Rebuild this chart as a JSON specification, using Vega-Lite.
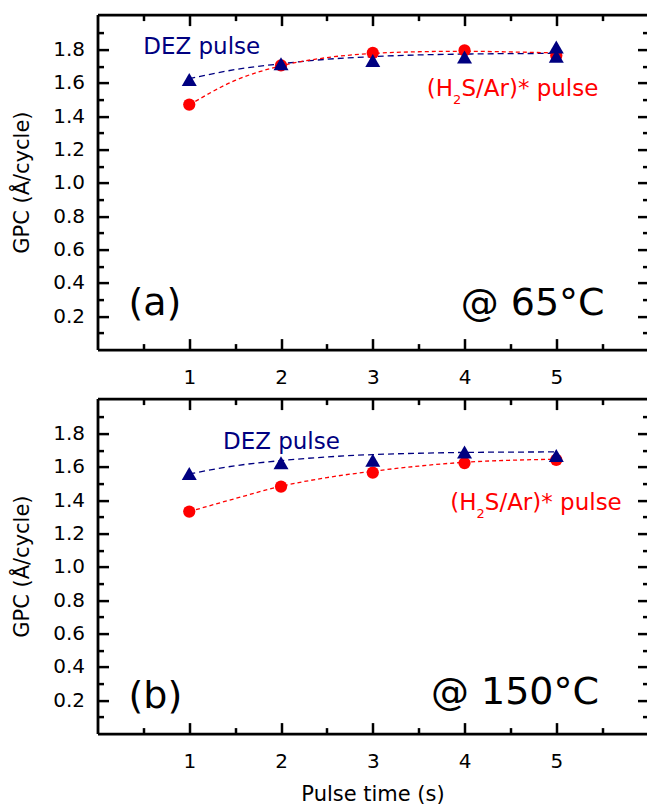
{
  "$schema": "https://vega.github.io/schema/vega-lite/v6.json",
  "padding": {"left": 11.5, "top": 12.6, "right": 0, "bottom": 0},
  "bounds": "flush",
  "spacing": 49,
  "config": {
    "view": {"stroke": null, "fill": null},
    "style": {"cell": {"stroke": "transparent", "strokeWidth": 0}},
    "font": "DejaVu Sans",
    "axis": {
      "grid": false,
      "tickColor": "#000000",
      "domainColor": "#000000",
      "labelColor": "#000000",
      "titleColor": "#000000",
      "tickWidth": 2.5,
      "domainWidth": 2.8,
      "labelFont": "DejaVu Sans",
      "labelFontSize": 20,
      "titleFont": "DejaVu Sans",
      "titleFontSize": 21,
      "titleFontWeight": "normal",
      "labelOverlap": false,
      "labelFlush": false,
      "minExtent": 0
    }
  },
  "datasets": {
    "measured": [
      {"panel": "a", "precursor": "DEZ", "t": 1, "gpc": 1.62},
      {"panel": "a", "precursor": "DEZ", "t": 2, "gpc": 1.715},
      {"panel": "a", "precursor": "DEZ", "t": 3, "gpc": 1.735},
      {"panel": "a", "precursor": "DEZ", "t": 4, "gpc": 1.755},
      {"panel": "a", "precursor": "DEZ", "t": 5, "gpc": 1.815},
      {"panel": "a", "precursor": "DEZ", "t": 5, "gpc": 1.76},
      {"panel": "a", "precursor": "H2S", "t": 1, "gpc": 1.47},
      {"panel": "a", "precursor": "H2S", "t": 2, "gpc": 1.705},
      {"panel": "a", "precursor": "H2S", "t": 3, "gpc": 1.78},
      {"panel": "a", "precursor": "H2S", "t": 4, "gpc": 1.795},
      {"panel": "a", "precursor": "H2S", "t": 5, "gpc": 1.765},
      {"panel": "b", "precursor": "DEZ", "t": 1, "gpc": 1.56},
      {"panel": "b", "precursor": "DEZ", "t": 2, "gpc": 1.625},
      {"panel": "b", "precursor": "DEZ", "t": 3, "gpc": 1.64},
      {"panel": "b", "precursor": "DEZ", "t": 4, "gpc": 1.69},
      {"panel": "b", "precursor": "DEZ", "t": 5, "gpc": 1.668},
      {"panel": "b", "precursor": "H2S", "t": 1, "gpc": 1.332},
      {"panel": "b", "precursor": "H2S", "t": 2, "gpc": 1.482},
      {"panel": "b", "precursor": "H2S", "t": 3, "gpc": 1.566},
      {"panel": "b", "precursor": "H2S", "t": 4, "gpc": 1.623},
      {"panel": "b", "precursor": "H2S", "t": 5, "gpc": 1.642}
    ],
    "fits": [
      {"panel": "a", "precursor": "DEZ", "t": 1, "gpc": 1.625},
      {"panel": "a", "precursor": "DEZ", "t": 1.5, "gpc": 1.68},
      {"panel": "a", "precursor": "DEZ", "t": 2, "gpc": 1.715},
      {"panel": "a", "precursor": "DEZ", "t": 2.5, "gpc": 1.742},
      {"panel": "a", "precursor": "DEZ", "t": 3, "gpc": 1.758},
      {"panel": "a", "precursor": "DEZ", "t": 3.5, "gpc": 1.768},
      {"panel": "a", "precursor": "DEZ", "t": 4, "gpc": 1.773},
      {"panel": "a", "precursor": "DEZ", "t": 4.5, "gpc": 1.776},
      {"panel": "a", "precursor": "DEZ", "t": 5, "gpc": 1.777},
      {"panel": "a", "precursor": "H2S", "t": 1, "gpc": 1.468},
      {"panel": "a", "precursor": "H2S", "t": 1.5, "gpc": 1.615},
      {"panel": "a", "precursor": "H2S", "t": 2, "gpc": 1.703},
      {"panel": "a", "precursor": "H2S", "t": 2.5, "gpc": 1.752},
      {"panel": "a", "precursor": "H2S", "t": 3, "gpc": 1.777},
      {"panel": "a", "precursor": "H2S", "t": 3.5, "gpc": 1.787},
      {"panel": "a", "precursor": "H2S", "t": 4, "gpc": 1.79},
      {"panel": "a", "precursor": "H2S", "t": 4.5, "gpc": 1.786},
      {"panel": "a", "precursor": "H2S", "t": 5, "gpc": 1.78},
      {"panel": "b", "precursor": "DEZ", "t": 1, "gpc": 1.558},
      {"panel": "b", "precursor": "DEZ", "t": 1.5, "gpc": 1.607},
      {"panel": "b", "precursor": "DEZ", "t": 2, "gpc": 1.638},
      {"panel": "b", "precursor": "DEZ", "t": 2.5, "gpc": 1.66},
      {"panel": "b", "precursor": "DEZ", "t": 3, "gpc": 1.674},
      {"panel": "b", "precursor": "DEZ", "t": 3.5, "gpc": 1.682},
      {"panel": "b", "precursor": "DEZ", "t": 4, "gpc": 1.687},
      {"panel": "b", "precursor": "DEZ", "t": 4.5, "gpc": 1.689},
      {"panel": "b", "precursor": "DEZ", "t": 5, "gpc": 1.69},
      {"panel": "b", "precursor": "H2S", "t": 1, "gpc": 1.332},
      {"panel": "b", "precursor": "H2S", "t": 1.5, "gpc": 1.41},
      {"panel": "b", "precursor": "H2S", "t": 2, "gpc": 1.484},
      {"panel": "b", "precursor": "H2S", "t": 2.5, "gpc": 1.536},
      {"panel": "b", "precursor": "H2S", "t": 3, "gpc": 1.574},
      {"panel": "b", "precursor": "H2S", "t": 3.5, "gpc": 1.605},
      {"panel": "b", "precursor": "H2S", "t": 4, "gpc": 1.628},
      {"panel": "b", "precursor": "H2S", "t": 4.5, "gpc": 1.64},
      {"panel": "b", "precursor": "H2S", "t": 5, "gpc": 1.646}
    ]
  },
  "vconcat": [
    {
      "width": 550,
      "height": 335,
      "view": {"stroke": null},
      "resolve": {"axis": {"x": "independent", "y": "independent"}},
      "layer": [
        {
          "data": {"name": "fits"},
          "transform": [{"filter": "datum.panel === 'a' && datum.precursor === 'DEZ'"}],
          "mark": {"type": "line", "color": "#000080", "strokeWidth": 1.3, "strokeDash": [6, 4], "interpolate": "monotone"},
          "encoding": {
            "x": {"field": "t", "type": "quantitative", "scale": {"domain": [0, 5.994], "nice": false, "zero": false},
                  "axis": {"orient": "bottom", "values": [1, 2, 3, 4, 5], "tickSize": -11, "labelPadding": 29, "title": null, "domain": true}},
            "y": {"field": "gpc", "type": "quantitative", "scale": {"domain": [0, 2.01], "nice": false, "zero": false},
                  "axis": {"orient": "left", "values": [0.2, 0.4, 0.6, 0.8, 1.0, 1.2, 1.4, 1.6, 1.8], "format": ".1f", "tickSize": -11, "labelPadding": 24, "title": "GPC (Å/cycle)", "titlePadding": 20, "domain": true}}
          }
        },
        {
          "data": {"name": "fits"},
          "transform": [{"filter": "datum.panel === 'a' && datum.precursor === 'H2S'"}],
          "mark": {"type": "line", "color": "#ff0000", "strokeWidth": 1.3, "strokeDash": [4, 3], "interpolate": "monotone"},
          "encoding": {
            "x": {"field": "t", "type": "quantitative",
                  "axis": {"orient": "bottom", "values": [0.5, 1.5, 2.5, 3.5, 4.5, 5.5], "tickSize": -6, "labels": false, "title": null, "domain": false}},
            "y": {"field": "gpc", "type": "quantitative",
                  "axis": {"orient": "left", "values": [0.1, 0.3, 0.5, 0.7, 0.9, 1.1, 1.3, 1.5, 1.7, 1.9], "tickSize": -6, "labels": false, "title": null, "domain": false}}
          }
        },
        {
          "data": {"name": "measured"},
          "transform": [{"filter": "datum.panel === 'a' && datum.precursor === 'H2S'"}],
          "mark": {"type": "point", "shape": "circle", "filled": true, "color": "#ff0000", "opacity": 1, "size": 150},
          "encoding": {
            "x": {"field": "t", "type": "quantitative",
                  "axis": {"orient": "top", "values": [1, 2, 3, 4, 5], "tickSize": -11, "labels": false, "title": null, "domain": true}},
            "y": {"field": "gpc", "type": "quantitative",
                  "axis": {"orient": "right", "values": [0.2, 0.4, 0.6, 0.8, 1.0, 1.2, 1.4, 1.6, 1.8], "tickSize": -10, "labels": false, "title": null, "domain": false, "domainOpacity": 0}}
          }
        },
        {
          "data": {"name": "measured"},
          "transform": [{"filter": "datum.panel === 'a' && datum.precursor === 'DEZ'"}],
          "mark": {"type": "point", "shape": "triangle-up", "filled": true, "color": "#000080", "opacity": 1, "size": 225},
          "encoding": {
            "x": {"field": "t", "type": "quantitative",
                  "axis": {"orient": "top", "values": [0.5, 1.5, 2.5, 3.5, 4.5, 5.5], "tickSize": -6, "labels": false, "title": null, "domain": false}},
            "y": {"field": "gpc", "type": "quantitative",
                  "axis": {"orient": "right", "values": [0.1, 0.3, 0.5, 0.7, 0.9, 1.1, 1.3, 1.5, 1.7, 1.9], "tickSize": -5, "labels": false, "title": null, "domain": false, "domainOpacity": 0}}
          }
        },
        {
          "data": {"values": [{}]},
          "mark": {"type": "text", "text": "DEZ pulse", "align": "left", "baseline": "alphabetic", "fontSize": 23, "color": "#000080"},
          "encoding": {"x": {"datum": 0.498, "type": "quantitative", "axis": null}, "y": {"datum": 1.776, "type": "quantitative", "axis": null}}
        },
        {
          "data": {"values": [{}]},
          "mark": {"type": "text", "text": "(H", "align": "left", "baseline": "alphabetic", "fontSize": 23, "color": "#ff0000"},
          "encoding": {"x": {"datum": 3.589, "type": "quantitative", "axis": null}, "y": {"datum": 1.52, "type": "quantitative", "axis": null}}
        },
        {
          "data": {"values": [{}]},
          "mark": {"type": "text", "text": "2", "align": "left", "baseline": "alphabetic", "fontSize": 13, "dx": 26.3, "dy": 8, "color": "#ff0000"},
          "encoding": {"x": {"datum": 3.589, "type": "quantitative", "axis": null}, "y": {"datum": 1.52, "type": "quantitative", "axis": null}}
        },
        {
          "data": {"values": [{}]},
          "mark": {"type": "text", "text": "S/Ar)* pulse", "align": "left", "baseline": "alphabetic", "fontSize": 23, "dx": 34.6, "color": "#ff0000"},
          "encoding": {"x": {"datum": 3.589, "type": "quantitative", "axis": null}, "y": {"datum": 1.52, "type": "quantitative", "axis": null}}
        },
        {
          "data": {"values": [{}]},
          "mark": {"type": "text", "text": "(a)", "align": "left", "baseline": "alphabetic", "fontSize": 38, "color": "#000000"},
          "encoding": {"x": {"datum": 0.338, "type": "quantitative", "axis": null}, "y": {"datum": 0.206, "type": "quantitative", "axis": null}}
        },
        {
          "data": {"values": [{}]},
          "mark": {"type": "text", "text": "@ 65°C", "align": "right", "baseline": "alphabetic", "fontSize": 38, "color": "#000000"},
          "encoding": {"x": {"datum": 5.527, "type": "quantitative", "axis": null}, "y": {"datum": 0.206, "type": "quantitative", "axis": null}}
        }
      ]
    },
    {
      "width": 550,
      "height": 335,
      "view": {"stroke": null},
      "resolve": {"axis": {"x": "independent", "y": "independent"}},
      "layer": [
        {
          "data": {"name": "fits"},
          "transform": [{"filter": "datum.panel === 'b' && datum.precursor === 'DEZ'"}],
          "mark": {"type": "line", "color": "#000080", "strokeWidth": 1.3, "strokeDash": [6, 4], "interpolate": "monotone"},
          "encoding": {
            "x": {"field": "t", "type": "quantitative", "scale": {"domain": [0, 5.994], "nice": false, "zero": false},
                  "axis": {"orient": "bottom", "values": [1, 2, 3, 4, 5], "tickSize": -11, "labelPadding": 29, "title": "Pulse time (s)", "titleBaseline": "alphabetic", "titlePadding": 29, "domain": true}},
            "y": {"field": "gpc", "type": "quantitative", "scale": {"domain": [0, 2.01], "nice": false, "zero": false},
                  "axis": {"orient": "left", "values": [0.2, 0.4, 0.6, 0.8, 1.0, 1.2, 1.4, 1.6, 1.8], "format": ".1f", "tickSize": -11, "labelPadding": 24, "title": "GPC (Å/cycle)", "titlePadding": 20, "domain": true}}
          }
        },
        {
          "data": {"name": "fits"},
          "transform": [{"filter": "datum.panel === 'b' && datum.precursor === 'H2S'"}],
          "mark": {"type": "line", "color": "#ff0000", "strokeWidth": 1.3, "strokeDash": [4, 3], "interpolate": "monotone"},
          "encoding": {
            "x": {"field": "t", "type": "quantitative",
                  "axis": {"orient": "bottom", "values": [0.5, 1.5, 2.5, 3.5, 4.5, 5.5], "tickSize": -6, "labels": false, "title": null, "domain": false}},
            "y": {"field": "gpc", "type": "quantitative",
                  "axis": {"orient": "left", "values": [0.1, 0.3, 0.5, 0.7, 0.9, 1.1, 1.3, 1.5, 1.7, 1.9], "tickSize": -6, "labels": false, "title": null, "domain": false}}
          }
        },
        {
          "data": {"name": "measured"},
          "transform": [{"filter": "datum.panel === 'b' && datum.precursor === 'H2S'"}],
          "mark": {"type": "point", "shape": "circle", "filled": true, "color": "#ff0000", "opacity": 1, "size": 150},
          "encoding": {
            "x": {"field": "t", "type": "quantitative",
                  "axis": {"orient": "top", "values": [1, 2, 3, 4, 5], "tickSize": -11, "labels": false, "title": null, "domain": true}},
            "y": {"field": "gpc", "type": "quantitative",
                  "axis": {"orient": "right", "values": [0.2, 0.4, 0.6, 0.8, 1.0, 1.2, 1.4, 1.6, 1.8], "tickSize": -10, "labels": false, "title": null, "domain": false, "domainOpacity": 0}}
          }
        },
        {
          "data": {"name": "measured"},
          "transform": [{"filter": "datum.panel === 'b' && datum.precursor === 'DEZ'"}],
          "mark": {"type": "point", "shape": "triangle-up", "filled": true, "color": "#000080", "opacity": 1, "size": 225},
          "encoding": {
            "x": {"field": "t", "type": "quantitative",
                  "axis": {"orient": "top", "values": [0.5, 1.5, 2.5, 3.5, 4.5, 5.5], "tickSize": -6, "labels": false, "title": null, "domain": false}},
            "y": {"field": "gpc", "type": "quantitative",
                  "axis": {"orient": "right", "values": [0.1, 0.3, 0.5, 0.7, 0.9, 1.1, 1.3, 1.5, 1.7, 1.9], "tickSize": -5, "labels": false, "title": null, "domain": false, "domainOpacity": 0}}
          }
        },
        {
          "data": {"values": [{}]},
          "mark": {"type": "text", "text": "DEZ pulse", "align": "left", "baseline": "alphabetic", "fontSize": 23, "color": "#000080"},
          "encoding": {"x": {"datum": 1.367, "type": "quantitative", "axis": null}, "y": {"datum": 1.71, "type": "quantitative", "axis": null}}
        },
        {
          "data": {"values": [{}]},
          "mark": {"type": "text", "text": "(H", "align": "left", "baseline": "alphabetic", "fontSize": 23, "color": "#ff0000"},
          "encoding": {"x": {"datum": 3.844, "type": "quantitative", "axis": null}, "y": {"datum": 1.34, "type": "quantitative", "axis": null}}
        },
        {
          "data": {"values": [{}]},
          "mark": {"type": "text", "text": "2", "align": "left", "baseline": "alphabetic", "fontSize": 13, "dx": 26.3, "dy": 8, "color": "#ff0000"},
          "encoding": {"x": {"datum": 3.844, "type": "quantitative", "axis": null}, "y": {"datum": 1.34, "type": "quantitative", "axis": null}}
        },
        {
          "data": {"values": [{}]},
          "mark": {"type": "text", "text": "S/Ar)* pulse", "align": "left", "baseline": "alphabetic", "fontSize": 23, "dx": 34.6, "color": "#ff0000"},
          "encoding": {"x": {"datum": 3.844, "type": "quantitative", "axis": null}, "y": {"datum": 1.34, "type": "quantitative", "axis": null}}
        },
        {
          "data": {"values": [{}]},
          "mark": {"type": "text", "text": "(b)", "align": "left", "baseline": "alphabetic", "fontSize": 38, "color": "#000000"},
          "encoding": {"x": {"datum": 0.338, "type": "quantitative", "axis": null}, "y": {"datum": 0.156, "type": "quantitative", "axis": null}}
        },
        {
          "data": {"values": [{}]},
          "mark": {"type": "text", "text": "@ 150°C", "align": "right", "baseline": "alphabetic", "fontSize": 38, "color": "#000000"},
          "encoding": {"x": {"datum": 5.466, "type": "quantitative", "axis": null}, "y": {"datum": 0.18, "type": "quantitative", "axis": null}}
        }
      ]
    }
  ]
}
